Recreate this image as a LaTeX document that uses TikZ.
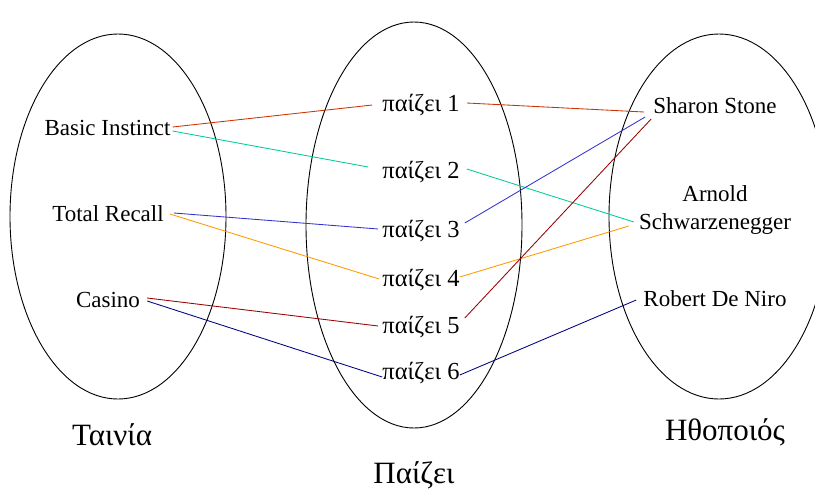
\documentclass[tikz,border=0pt]{standalone}
\usepackage{fontspec}
\setmainfont{Liberation Serif}
\definecolor{cRed}{RGB}{204,51,0}
\definecolor{cTeal}{RGB}{0,204,153}
\definecolor{cBlue}{RGB}{51,51,204}
\definecolor{cOrange}{RGB}{255,153,0}
\definecolor{cDark}{RGB}{153,0,0}
\definecolor{cNavy}{RGB}{0,0,128}
\begin{document}
\begin{tikzpicture}[x=1pt,y=-1pt,
  setline/.style={draw=black,line width=0.9pt},
  lbl/.style={inner sep=0pt,anchor=base,font=\fontsize{23}{28}\selectfont},
  mid/.style={lbl,font=\fontsize{24.5}{29}\selectfont},
  title/.style={inner sep=0pt,anchor=base,font=\fontsize{31}{36}\selectfont},
  conn/.style={line width=0.85pt}]
\useasboundingbox (0,0) rectangle (815,491);
\begin{scope}
\clip (0,0) rectangle (815,491);
\draw[setline] (118,216.5) ellipse [x radius=108pt, y radius=182.5pt];
\draw[setline] (414,225) ellipse [x radius=108pt, y radius=203pt];
\draw[setline] (719,216.5) ellipse [x radius=110pt, y radius=182.5pt];
\end{scope}
% left set
\node[lbl] (bi) at (107.5,135) {Basic Instinct};
\node[lbl] (tr) at (108,221) {Total Recall};
\node[lbl] (ca) at (108,307) {Casino};
% middle set
\node[mid] (p1) at (421,111) {παίζει 1};
\node[mid] (p2) at (421,178) {παίζει 2};
\node[mid] (p3) at (421,237) {παίζει 3};
\node[mid] (p4) at (421,286) {παίζει 4};
\node[mid] (p5) at (421,333) {παίζει 5};
\node[mid] (p6) at (421,379) {παίζει 6};
% right set
\node[lbl] (ss) at (715,113) {Sharon Stone};
\node[lbl] (ar) at (715,201) {Arnold};
\node[lbl] (sw) at (715,229) {Schwarzenegger};
\node[lbl] (rd) at (715,306) {Robert De Niro};
% titles
\node[title] (tA) at (112,445) {Ταινία};
\node[title] (tB) at (414,483) {Παίζει};
\node[title] (tC) at (725,440) {Ηθοποιός};
% connectors left -> middle
\draw[conn,cRed] ([xshift=2pt,yshift=8pt]bi.base east) -- ([xshift=-10pt,yshift=6pt]p1.base west);
\draw[conn,cTeal] ([xshift=2pt,yshift=4pt]bi.base east) -- ([xshift=-14pt,yshift=11pt]p2.base west);
\draw[conn,cBlue] ([xshift=10pt,yshift=8pt]tr.base east) -- ([xshift=-4pt,yshift=8pt]p3.base west);
\draw[conn,cOrange] ([xshift=6pt,yshift=7pt]tr.base east) -- ([xshift=-3pt,yshift=7pt]p4.base west);
\draw[conn,cDark] ([xshift=7pt,yshift=9pt]ca.base east) -- ([xshift=-4pt,yshift=7pt]p5.base west);
\draw[conn,cNavy] ([xshift=7pt,yshift=6pt]ca.base east) -- ([xshift=0pt,yshift=2pt]p6.base west);
% connectors middle -> right
\draw[conn,cRed] ([xshift=7pt,yshift=8pt]p1.base east) -- ([xshift=-9pt,yshift=1pt]ss.base west);
\draw[conn,cTeal] ([xshift=7pt,yshift=9pt]p2.base east) -- ([xshift=-5pt,yshift=7pt]sw.base west);
\draw[conn,cBlue] ([xshift=5pt,yshift=14pt]p3.base east) -- ([xshift=-8pt,yshift=-4pt]ss.base west);
\draw[conn,cOrange] ([xshift=0pt,yshift=9pt]p4.base east) -- ([xshift=-10pt,yshift=3pt]sw.base west);
\draw[conn,cDark] ([xshift=5pt,yshift=15pt]p5.base east) -- ([xshift=-2pt,yshift=-6pt]ss.base west);
\draw[conn,cNavy] ([xshift=0pt,yshift=4pt]p6.base east) -- ([xshift=-7pt,yshift=6pt]rd.base west);
\end{tikzpicture}
\end{document}
